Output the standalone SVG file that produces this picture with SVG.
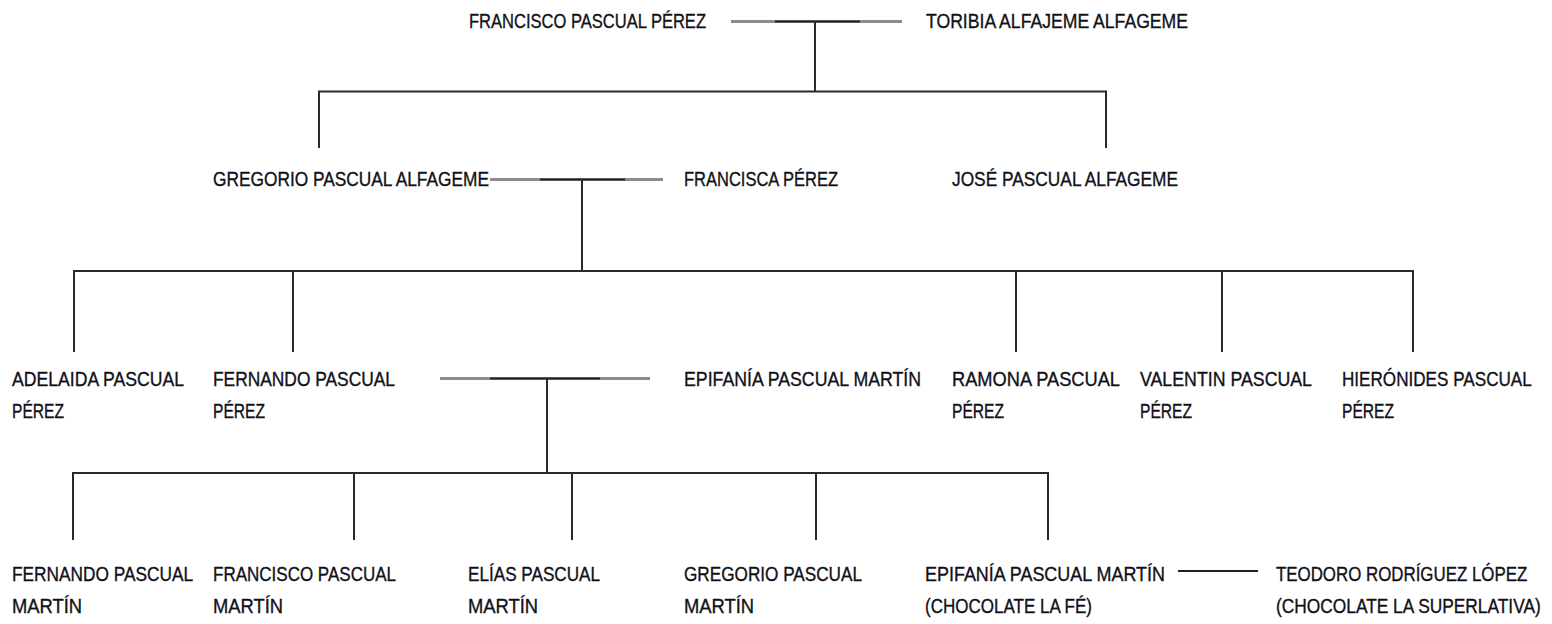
<svg xmlns="http://www.w3.org/2000/svg" width="1552" height="624" viewBox="0 0 1552 624">
<style>
  text { font-family: "Liberation Sans", Arial, sans-serif; font-size: 21px; fill: #101018; stroke: #101018; stroke-width: 0.35; }
  .ln { stroke: #2a2a2a; stroke-width: 2; fill: none; }
  .cg { stroke: #8c8c8c; stroke-width: 3; fill: none; }
  .ck { stroke: #222; stroke-width: 2; fill: none; }
</style>
<rect width="1552" height="624" fill="#ffffff"/>
<g id="connectors">
  <line class="cg" x1="731" y1="21.5" x2="902" y2="21.5"/>
  <line class="ck" x1="775" y1="21.5" x2="860" y2="21.5"/>
  <line class="ln" x1="815" y1="21" x2="815" y2="92"/>
  <line class="ln" x1="318" y1="91.5" x2="1107" y2="91.5"/>
  <line class="ln" x1="319" y1="91" x2="319" y2="148"/>
  <line class="ln" x1="1106" y1="91" x2="1106" y2="148"/>
  <line class="cg" x1="490" y1="179.5" x2="663" y2="179.5"/>
  <line class="ck" x1="540" y1="179.5" x2="625" y2="179.5"/>
  <line class="ln" x1="582" y1="179" x2="582" y2="271"/>
  <line class="ln" x1="73" y1="271" x2="1414" y2="271"/>
  <line class="ln" x1="74" y1="270" x2="74" y2="352"/>
  <line class="ln" x1="293" y1="270" x2="293" y2="352"/>
  <line class="ln" x1="1016" y1="270" x2="1016" y2="352"/>
  <line class="ln" x1="1222" y1="270" x2="1222" y2="352"/>
  <line class="ln" x1="1413" y1="270" x2="1413" y2="352"/>
  <line class="cg" x1="440" y1="378.5" x2="650" y2="378.5"/>
  <line class="ck" x1="490" y1="378.5" x2="600" y2="378.5"/>
  <line class="ln" x1="547" y1="378" x2="547" y2="474"/>
  <line class="ln" x1="72" y1="473" x2="1049" y2="473"/>
  <line class="ln" x1="73" y1="472" x2="73" y2="540"/>
  <line class="ln" x1="354" y1="474" x2="354" y2="540"/>
  <line class="ln" x1="572" y1="474" x2="572" y2="540"/>
  <line class="ln" x1="816" y1="474" x2="816" y2="540"/>
  <line class="ln" x1="1048" y1="472" x2="1048" y2="540"/>
  <line class="ck" x1="1178" y1="571" x2="1258" y2="571"/>
</g>
<g id="n-francisco-pascual-perez"><text x="469" y="28" textLength="237" lengthAdjust="spacingAndGlyphs">FRANCISCO PASCUAL PÉREZ</text></g>
<g id="n-toribia"><text x="926" y="28" textLength="262" lengthAdjust="spacingAndGlyphs">TORIBIA ALFAJEME ALFAGEME</text></g>
<g id="n-gregorio"><text x="213" y="186" textLength="276" lengthAdjust="spacingAndGlyphs">GREGORIO PASCUAL ALFAGEME</text></g>
<g id="n-francisca"><text x="684" y="186" textLength="154" lengthAdjust="spacingAndGlyphs">FRANCISCA PÉREZ</text></g>
<g id="n-jose"><text x="952" y="186" textLength="226" lengthAdjust="spacingAndGlyphs">JOSÉ PASCUAL ALFAGEME</text></g>
<g id="n-adelaida"><text x="12" y="386" textLength="172" lengthAdjust="spacingAndGlyphs">ADELAIDA PASCUAL</text><text x="12" y="418" textLength="52" lengthAdjust="spacingAndGlyphs">PÉREZ</text></g>
<g id="n-fernando-perez"><text x="213" y="386" textLength="182" lengthAdjust="spacingAndGlyphs">FERNANDO PASCUAL</text><text x="213" y="418" textLength="52" lengthAdjust="spacingAndGlyphs">PÉREZ</text></g>
<g id="n-epifania-1"><text x="684" y="386" textLength="237" lengthAdjust="spacingAndGlyphs">EPIFANÍA PASCUAL MARTÍN</text></g>
<g id="n-ramona"><text x="952" y="386" textLength="168" lengthAdjust="spacingAndGlyphs">RAMONA PASCUAL</text><text x="952" y="418" textLength="52" lengthAdjust="spacingAndGlyphs">PÉREZ</text></g>
<g id="n-valentin"><text x="1140" y="386" textLength="172" lengthAdjust="spacingAndGlyphs">VALENTIN PASCUAL</text><text x="1140" y="418" textLength="52" lengthAdjust="spacingAndGlyphs">PÉREZ</text></g>
<g id="n-hieronides"><text transform="translate(1342,386) scale(0.75,1)" x="0" y="0" textLength="253" lengthAdjust="spacingAndGlyphs">HIERÓNIDES PASCUAL</text><text x="1342" y="418" textLength="52" lengthAdjust="spacingAndGlyphs">PÉREZ</text></g>
<g id="n-fernando-martin"><text x="12" y="581" textLength="181" lengthAdjust="spacingAndGlyphs">FERNANDO PASCUAL</text><text x="12" y="613" textLength="70" lengthAdjust="spacingAndGlyphs">MARTÍN</text></g>
<g id="n-francisco-martin"><text x="213" y="581" textLength="183" lengthAdjust="spacingAndGlyphs">FRANCISCO PASCUAL</text><text x="213" y="613" textLength="70" lengthAdjust="spacingAndGlyphs">MARTÍN</text></g>
<g id="n-elias"><text x="468" y="581" textLength="132" lengthAdjust="spacingAndGlyphs">ELÍAS PASCUAL</text><text x="468" y="613" textLength="70" lengthAdjust="spacingAndGlyphs">MARTÍN</text></g>
<g id="n-gregorio-martin"><text x="684" y="581" textLength="178" lengthAdjust="spacingAndGlyphs">GREGORIO PASCUAL</text><text x="684" y="613" textLength="70" lengthAdjust="spacingAndGlyphs">MARTÍN</text></g>
<g id="n-epifania-2"><text x="925" y="581" textLength="240" lengthAdjust="spacingAndGlyphs">EPIFANÍA PASCUAL MARTÍN</text><text x="925" y="613" textLength="167" lengthAdjust="spacingAndGlyphs">(CHOCOLATE LA FÉ)</text></g>
<g id="n-teodoro"><text transform="translate(1276,581) scale(0.75,1)" x="0" y="0" textLength="335" lengthAdjust="spacingAndGlyphs">TEODORO RODRÍGUEZ LÓPEZ</text><text transform="translate(1276,613) scale(0.75,1)" x="0" y="0" textLength="353" lengthAdjust="spacingAndGlyphs">(CHOCOLATE LA SUPERLATIVA)</text></g>
</svg>
